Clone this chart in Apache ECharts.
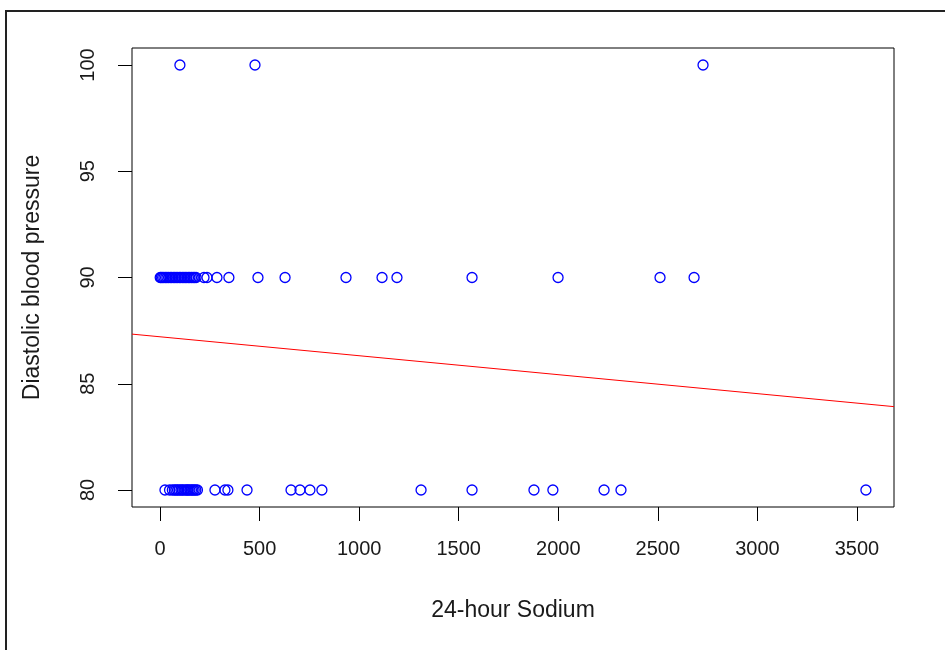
<!DOCTYPE html>
<html>
<head>
<meta charset="utf-8">
<script src="https://cdn.jsdelivr.net/npm/echarts@6/dist/echarts.min.js"></script>
<style>
html,body{margin:0;padding:0;background:#fff;}
#chart{width:945px;height:650px;}
</style>
</head>
<body>
<div id="chart"></div>
<script>
// Data
const sodium100 = [100, 477, 2727];
const sodium90 = [1, 6, 13, 20, 28, 35, 43, 51, 58, 66, 74, 81, 89, 97, 104, 112, 120, 127, 135, 143, 150, 158, 166, 173, 181, 221, 236, 286, 346, 492, 628, 934, 1115, 1190, 1567, 1999, 2511, 2682];
const sodium80 = [25, 48, 62, 72, 80, 88, 96, 105, 112, 120, 130, 136, 142, 150, 158, 165, 172, 180, 188, 276, 326, 341, 437, 658, 703, 753, 813, 1311, 1567, 1878, 1973, 2230, 2315, 3545];
const xTicks = [0, 500, 1000, 1500, 2000, 2500, 3000, 3500];
const yTicks = [80, 85, 90, 95, 100];
const fitIntercept = 87.21;
const fitSlope = -0.000892;
const xMin = -140.6, xMax = 3686;
const yMin = 79.2, yMax = 100.8;

const points = [];
sodium100.forEach(v => points.push([v, 100]));
sodium90.forEach(v => points.push([v, 90]));
sodium80.forEach(v => points.push([v, 80]));
const fitLine = [[xMin, fitIntercept + fitSlope * xMin], [xMax, fitIntercept + fitSlope * xMax]];

const font = '"Liberation Sans", Arial, sans-serif';
const chart = echarts.init(document.getElementById('chart'));
chart.setOption({
  animation: false,
  backgroundColor: '#fff',
  graphic: [{
    type: 'rect',
    shape: {x: 6, y: 11, width: 1200, height: 1000},
    style: {fill: 'none', stroke: '#222', lineWidth: 2},
    silent: true, z: 100
  }],
  grid: {left: 132, top: 48, right: 51, bottom: 143, show: true, borderColor: '#000', borderWidth: 1, backgroundColor: 'transparent'},
  xAxis: {
    type: 'value', min: xMin, max: xMax,
    name: '24-hour Sodium', nameLocation: 'middle', nameGap: 92,
    nameTextStyle: {fontFamily: font, fontSize: 23, color: '#1a1a1a'},
    axisLine: {show: false, onZero: false},
    splitLine: {show: false},
    axisTick: {show: true, customValues: xTicks, length: 14, lineStyle: {color: '#000', width: 1}},
    axisLabel: {customValues: xTicks, margin: 32, fontFamily: font, fontSize: 20, color: '#1a1a1a',
      formatter: v => String(v)}
  },
  yAxis: {
    type: 'value', min: yMin, max: yMax,
    name: 'Diastolic blood pressure', nameLocation: 'middle', nameGap: 88,
    nameTextStyle: {fontFamily: font, fontSize: 23, color: '#1a1a1a'},
    axisLine: {show: false, onZero: false},
    splitLine: {show: false},
    axisTick: {show: true, customValues: yTicks, length: 14, lineStyle: {color: '#000', width: 1}},
    axisLabel: {customValues: yTicks, rotate: 90, margin: 34, fontFamily: font, fontSize: 20, color: '#1a1a1a',
      formatter: v => String(v)}
  },
  series: [
    {
      type: 'scatter', data: points, symbol: 'circle', symbolSize: 10,
      itemStyle: {color: 'rgba(0,0,0,0)', borderColor: '#0000ff', borderWidth: 1.3, opacity: 1},
      emphasis: {disabled: true}, z: 3
    },
    {
      type: 'line', data: fitLine, showSymbol: false, symbol: 'none',
      lineStyle: {color: '#ff0000', width: 1}, clip: true, z: 2
    }
  ]
});
</script>
</body>
</html>
